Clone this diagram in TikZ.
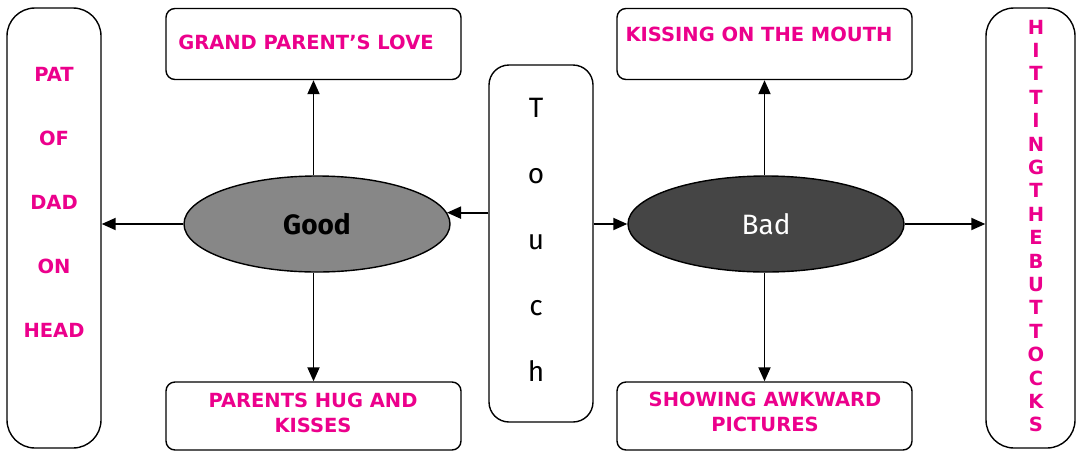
\documentclass[tikz,border=0pt]{standalone}
\usepackage{fontspec}
\setmainfont{DejaVu Sans}
\newfontfamily\comic{Fira Sans}
\usetikzlibrary{arrows.meta,shapes.geometric}
\definecolor{pinktxt}{HTML}{EC008C}
\definecolor{goodgray}{HTML}{878787}
\definecolor{badgray}{HTML}{454545}
\begin{document}
\begin{tikzpicture}[x=1pt,y=-1pt,
 box/.style={draw, line width=1.4pt, rounded corners=9pt, inner sep=0pt},
 tall/.style={draw, line width=1.4pt, rounded corners=28pt, inner sep=0pt},
 lab/.style={text=pinktxt, font=\bfseries\fontsize{19.5}{25.5}\selectfont, align=center, inner sep=0pt},
 oval/.style={ellipse, draw, line width=1.4pt, minimum height=96pt, inner sep=0pt},
 arr/.style={line width=1.9pt, -{Triangle[length=14pt,width=12pt]}}
 ]
\useasboundingbox[fill=white] (0,0) rectangle (1078,453);
% boxes
\node[tall, minimum width=94pt, minimum height=440pt] (left) at (54,228) {};
\node[tall, minimum width=89pt, minimum height=440pt] (right) at (1030.5,228) {};
\node[box, minimum width=295pt, minimum height=71pt] (gp) at (313.5,44) {};
\node[box, minimum width=295pt, minimum height=71pt] (km) at (764.5,44) {};
\node[box, minimum width=295pt, minimum height=68pt] (ph) at (313.5,416) {};
\node[box, minimum width=295pt, minimum height=68pt] (sa) at (764.5,416) {};
\node[draw, line width=1.4pt, rounded corners=20pt, minimum width=104pt, minimum height=357pt] (touch) at (541,243.5) {};
% ellipses
\node[oval, fill=goodgray, minimum width=266pt, font=\comic\bfseries\fontsize{28}{30}\selectfont] (good) at (317,224) {Good};
\node[oval, fill=badgray, minimum width=276pt, text=white, font=\comic\fontsize{28}{30}\selectfont] (bad) at (766,224) {Bad};
% texts
\node[lab] (gpt) at (306,42) {GRAND PARENT’S LOVE};
\node[lab] (kmt) at (759,34) {KISSING ON THE MOUTH};
\node[lab] (pht) at (313,413) {PARENTS HUG AND\\KISSES};
\node[lab] (sat) at (765,412) {SHOWING AWKWARD\\PICTURES};
\node[lab, font=\bfseries\fontsize{19.5}{64}\selectfont] (leftt) at (54,202.5) {PAT\\OF\\DAD\\ON\\HEAD};
\node[lab, font=\bfseries\fontsize{19.5}{23.4}\selectfont] (rightt) at (1036,226) {H\\I\\T\\T\\I\\N\\G\\T\\H\\E\\B\\U\\T\\T\\O\\C\\K\\S};
\node[font=\comic\fontsize{28}{66}\selectfont, align=center, inner sep=0pt] (toucht) at (536,240) {T\\o\\u\\c\\h};
% arrows
\draw[arr] (gp.south |- good.north) -- (gp.south);
\draw[arr] (ph.north |- good.south) -- (ph.north);
\draw[arr] (km.south |- bad.north) -- (km.south);
\draw[arr] (sa.north |- bad.south) -- (sa.north);
\draw[arr] (good.west) -- (left.east |- good.west);
\draw[arr] (touch.west |- good.5) -- (good.5);
\draw[arr] (touch.east |- bad.west) -- (bad.west);
\draw[arr] (bad.east) -- (right.west |- bad.east);
\end{tikzpicture}
\end{document}
